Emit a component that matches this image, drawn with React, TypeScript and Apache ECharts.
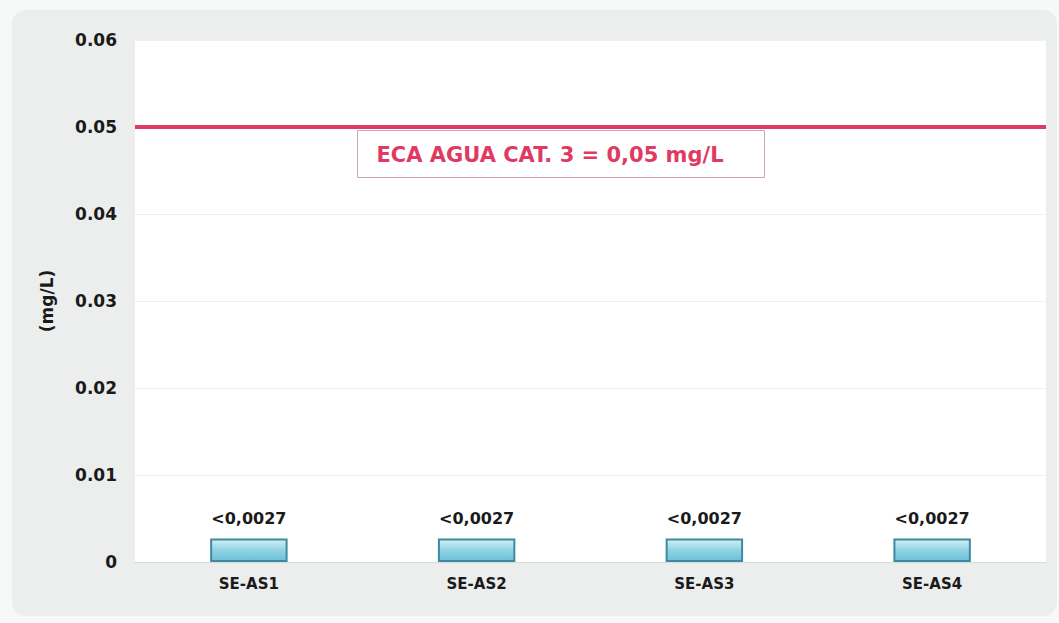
import React, { useEffect, useRef } from "react";
import * as echarts from "echarts";

const categories = ["SE-AS1", "SE-AS2", "SE-AS3", "SE-AS4"];
const values = [0.0027, 0.0027, 0.0027, 0.0027];
const valueLabels = ["<0,0027", "<0,0027", "<0,0027", "<0,0027"];
const limitValue = 0.05;
const limitText = "ECA AGUA CAT. 3 = 0,05 mg/L";
const yAxisName = "(mg/L)";

const FONT = "'DejaVu Sans', Verdana, sans-serif";

export default function App() {
  const ref = useRef<HTMLDivElement>(null);
  useEffect(() => {
    if (!ref.current) return;
    const chart = echarts.init(ref.current, null, { renderer: "svg" });
    chart.setOption({
      animation: false,
      backgroundColor: "transparent",
      grid: {
        left: 135,
        right: 13,
        top: 40,
        bottom: 61,
        show: true,
        backgroundColor: "#ffffff",
        borderWidth: 0,
      },
      xAxis: {
        type: "category",
        data: categories,
        axisLine: { show: true, lineStyle: { color: "#d8dada", width: 1 } },
        axisTick: { show: false },
        axisLabel: {
          color: "#1a1a1a",
          fontFamily: FONT,
          fontWeight: "bold",
          fontSize: 15,
          margin: 14,
        },
      },
      yAxis: {
        type: "value",
        min: 0,
        max: 0.06,
        interval: 0.01,
        name: yAxisName,
        nameLocation: "middle",
        nameGap: 80,
        nameRotate: 90,
        nameTextStyle: {
          color: "#1a1a1a",
          fontFamily: FONT,
          fontWeight: "bold",
          fontSize: 17,
        },
        axisLine: { show: false },
        axisTick: { show: false },
        splitLine: { lineStyle: { color: "#f0f0f0", width: 1 } },
        axisLabel: {
          color: "#1a1a1a",
          fontFamily: FONT,
          fontWeight: "bold",
          fontSize: 17,
          margin: 18,
          formatter: (v: number) => (v === 0 ? "0" : v.toFixed(2)),
        },
      },
      series: [
        {
          type: "bar",
          data: values,
          barWidth: "34%",
          itemStyle: {
            color: new echarts.graphic.LinearGradient(0, 0, 0, 1, [
              { offset: 0, color: "#d4f0f6" },
              { offset: 0.5, color: "#8fd3e4" },
              { offset: 1, color: "#6cbfd5" },
            ]),
            borderColor: "#3f8aa0",
            borderWidth: 2,
          },
          label: {
            show: true,
            position: "top",
            distance: 12,
            color: "#1a1a1a",
            fontFamily: FONT,
            fontWeight: "bold",
            fontSize: 16,
            formatter: (p: any) => valueLabels[p.dataIndex],
          },
          markLine: {
            silent: true,
            symbol: "none",
            label: { show: false },
            lineStyle: { color: "#e03a62", width: 4, type: "solid" },
            data: [{ yAxis: limitValue }],
          },
        },
      ],
      graphic: [
        {
          type: "rect",
          left: 357,
          top: 130,
          shape: { width: 407, height: 47 },
          style: { fill: "#ffffff", stroke: "#c9a9b1", lineWidth: 1 },
          z: 100,
        },
        {
          type: "text",
          x: 550,
          y: 155,
          style: {
            text: limitText,
            fill: "#e03a62",
            font: `bold 21px ${FONT}`,
            align: "center",
            verticalAlign: "middle",
          },
          z: 101,
        },
      ],
    });
    return () => chart.dispose();
  }, []);

  return (
    <div
      style={{
        position: "fixed",
        left: 0,
        top: 0,
        width: 1059,
        height: 623,
        background: "#f7f8f8",
      }}
    >
      <div
        style={{
          position: "absolute",
          left: 12,
          top: 10,
          width: 1045,
          height: 606,
          background: "#eceeed",
          borderRadius: 14,
        }}
      />
      <div
        ref={ref}
        style={{ position: "absolute", left: 0, top: 0, width: 1059, height: 623 }}
      />
    </div>
  );
}
